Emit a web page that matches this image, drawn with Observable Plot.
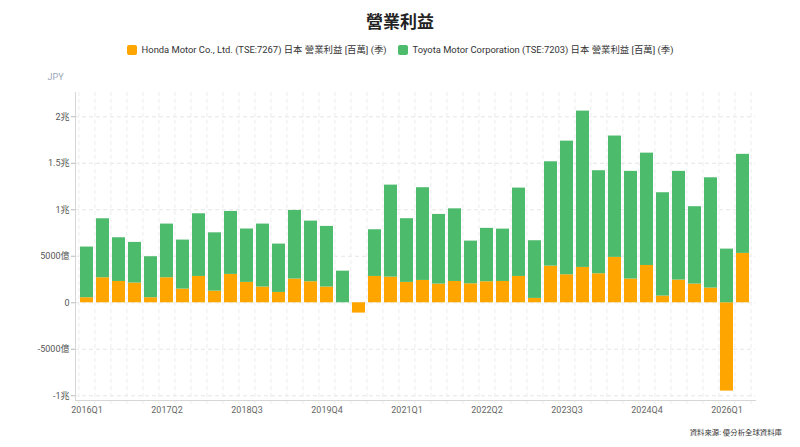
<!DOCTYPE html>
<html>
<head>
<meta charset="utf-8">
<script src="https://cdn.jsdelivr.net/npm/d3@7"></script>
<script src="https://cdn.jsdelivr.net/npm/@observablehq/plot@0.6"></script>
<style>
  body { margin:0; width:800px; height:447px; position:relative; background:#fff;
         font-family: Roboto, "Noto Sans CJK TC", "Noto Sans", sans-serif; color:#222; }
  #title { position:absolute; top:9px; left:0; width:800px; text-align:center; font-size:17px; font-weight:bold; line-height:26px; }
  #legend { position:absolute; top:42px; left:0; width:800px; display:flex; justify-content:center; gap:11px; font-size:9.4px; line-height:16px; color:#333; }
  #legend span.item { display:flex; align-items:center; }
  #legend i { display:inline-block; width:10px; height:10px; border-radius:2px; margin-right:5px; }
  #chart { position:absolute; top:62px; left:0; }
  #caption { position:absolute; top:425px; right:18px; font-size:7.4px; color:#333; line-height:16px; }
</style>
</head>
<body>
<div id="title">營業利益</div>
<div id="legend"></div>
<div id="chart"></div>
<div id="caption">資料來源: 優分析全球資料庫</div>
<script>
// Quarters 2016Q1 .. 2026Q2
const quarters = ["2016Q1","2016Q2","2016Q3","2016Q4","2017Q1","2017Q2","2017Q3","2017Q4",
  "2018Q1","2018Q2","2018Q3","2018Q4","2019Q1","2019Q2","2019Q3","2019Q4",
  "2020Q1","2020Q2","2020Q3","2020Q4","2021Q1","2021Q2","2021Q3","2021Q4",
  "2022Q1","2022Q2","2022Q3","2022Q4","2023Q1","2023Q2","2023Q3","2023Q4",
  "2024Q1","2024Q2","2024Q3","2024Q4","2025Q1","2025Q2","2025Q3","2025Q4",
  "2026Q1","2026Q2"];
// Operating income, JPY millions (百萬)
const honda = [54000,269000,229000,212000,54000,269000,147000,283000,
  125000,305000,219000,169000,111000,255000,226000,169000,
  0,-111000,283000,276000,219000,240000,201000,229000,
  204000,226000,229000,283000,47000,394000,301000,380000,
  312000,488000,255000,401000,72000,244000,201000,158000,
  -950000,531000];
const toyota = [545000,634000,470000,437000,441000,577000,527000,674000,
  627000,677000,574000,677000,520000,738000,652000,652000,
  340000,0,502000,989000,685000,997000,749000,781000,
  459000,574000,563000,950000,620000,1122000,1437000,1681000,
  1108000,1305000,1158000,1208000,1111000,1169000,832000,1186000,
  577000,1065000];
const seriesNames = ["Honda Motor Co., Ltd. (TSE:7267) 日本 營業利益 [百萬] (季)",
                     "Toyota Motor Corporation (TSE:7203) 日本 營業利益 [百萬] (季)"];
const colors = ["#FFA500", "#4CBB6C"];
const yTicks = [-1000000, -500000, 0, 500000, 1000000, 1500000, 2000000];
const xTickLabels = ["2016Q1","2017Q2","2018Q3","2019Q4","2021Q1","2022Q2","2023Q3","2024Q4","2026Q1"];

const data = [];
quarters.forEach((q, i) => {
  data.push({q, series: seriesNames[0], value: honda[i]});
  data.push({q, series: seriesNames[1], value: toyota[i]});
});

// legend
const legend = document.getElementById("legend");
seriesNames.forEach((n, i) => {
  const s = document.createElement("span");
  s.className = "item";
  s.innerHTML = `<i style="background:${colors[i]}"></i>${n}`;
  legend.appendChild(s);
});

function fmt(v) {
  if (v === 0) return "0";
  const a = Math.abs(v), sign = v < 0 ? "-" : "";
  if (a >= 1000000) return sign + (a / 1000000) + "兆";
  return sign + (a / 100) + "億";
}

const chart = Plot.plot({
  width: 800,
  height: 358,
  marginTop: 30,
  marginBottom: 20,
  marginLeft: 75,
  marginRight: 45,
  style: {fontFamily: 'Roboto, "Noto Sans CJK TC", sans-serif', fontSize: "9px", color: "#555", background: "#fff"},
  x: {domain: quarters, paddingInner: 0.18, paddingOuter: 0.09, axis: null},
  y: {domain: [-1051000, 2261000], axis: null},
  color: {domain: seriesNames, range: colors},
  marks: [
    Plot.gridY(yTicks, {stroke: "#e6e6e6", strokeOpacity: 1, strokeDasharray: "4,3"}),
    Plot.ruleX(quarters, {x: d => d, dx: -8.1, stroke: "#ececec", strokeDasharray: "4,3", insetBottom: -4}),
    Plot.ruleX(quarters.slice(-1), {x: d => d, dx: 8.1, stroke: "#ececec", strokeDasharray: "4,3", insetBottom: -4}),
    Plot.barY(data, Plot.stackY({x: "q", y: "value", fill: "series", order: seriesNames})),
    Plot.frame({anchor: "left", stroke: "#d6d6d6"}),
    Plot.frame({anchor: "bottom", stroke: "#d6d6d6"}),
    Plot.axisY(yTicks, {tickFormat: fmt, tickSize: 4, tickPadding: 2, stroke: "#bbb", fill: "#555", label: null}),
    Plot.axisX(xTickLabels, {tickSize: 0, tickPadding: 6, fill: "#666", label: null}),
    Plot.text(["JPY"], {frameAnchor: "top-left", text: d => d, dx: -28, dy: -19, textAnchor: "start", fill: "#9aa6b8", fontSize: 9})
  ]
});
document.getElementById("chart").appendChild(chart);
</script>
</body>
</html>
